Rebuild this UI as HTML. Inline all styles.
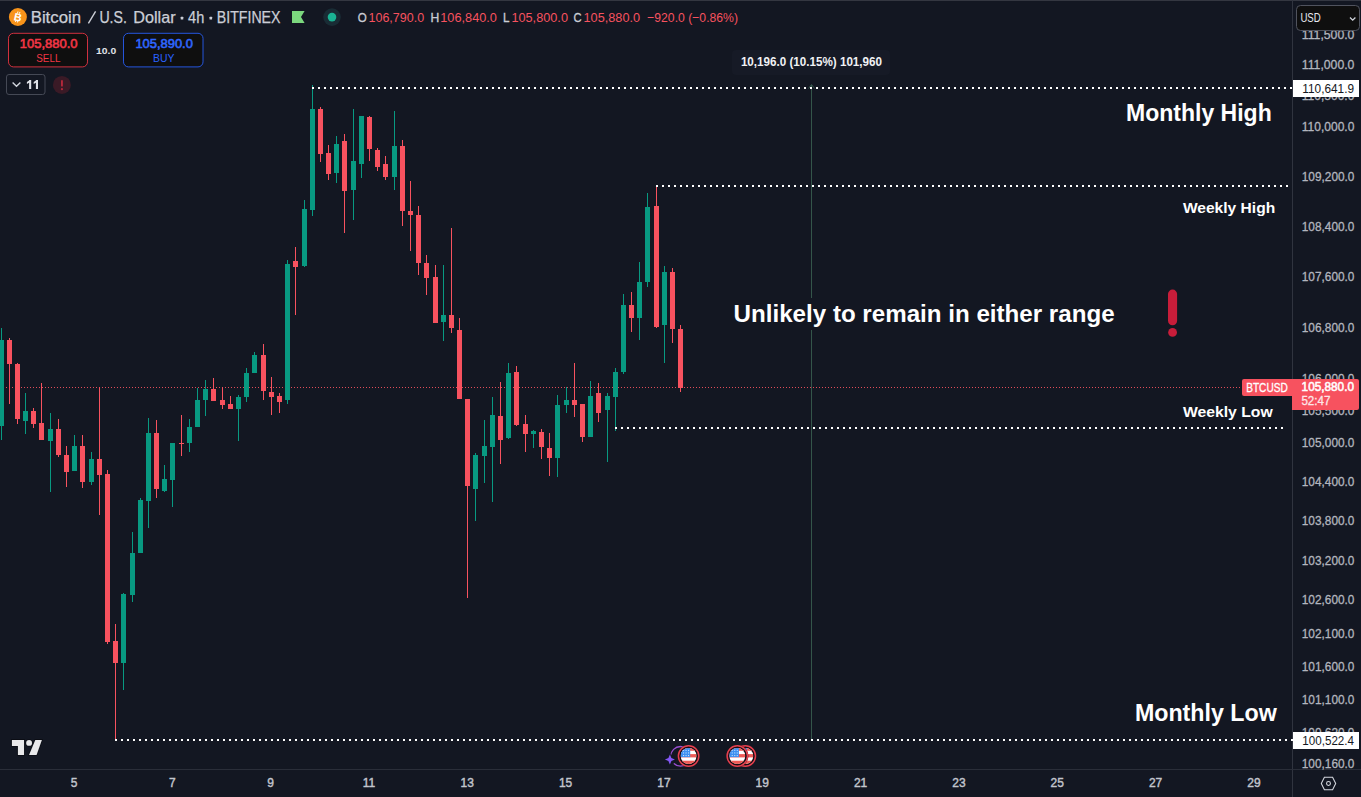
<!DOCTYPE html>
<html lang="en"><head><meta charset="utf-8"><title>BTCUSD 4h chart</title>
<style>
html,body{margin:0;padding:0;background:#131722;}
body{width:1361px;height:797px;overflow:hidden;position:relative;font-family:"Liberation Sans", sans-serif;}
</style></head><body>
<svg width="1361" height="797" viewBox="0 0 1361 797" font-family='"Liberation Sans", sans-serif' style="position:absolute;left:0;top:0;display:block">
<rect x="0" y="0" width="1361" height="797" fill="#131722"/>
<rect x="0" y="0" width="1361" height="1" fill="#343741"/>
<g shape-rendering="crispEdges">
<rect x="811" y="85" width="1" height="656" fill="#34554a"/>
<path d="M0 387h1v1h-1zM3 387h1v1h-1zM6 387h1v1h-1zM9 387h1v1h-1zM12 387h1v1h-1zM15 387h1v1h-1zM18 387h1v1h-1zM21 387h1v1h-1zM24 387h1v1h-1zM27 387h1v1h-1zM30 387h1v1h-1zM33 387h1v1h-1zM36 387h1v1h-1zM39 387h1v1h-1zM42 387h1v1h-1zM45 387h1v1h-1zM48 387h1v1h-1zM51 387h1v1h-1zM54 387h1v1h-1zM57 387h1v1h-1zM60 387h1v1h-1zM63 387h1v1h-1zM66 387h1v1h-1zM69 387h1v1h-1zM72 387h1v1h-1zM75 387h1v1h-1zM78 387h1v1h-1zM81 387h1v1h-1zM84 387h1v1h-1zM87 387h1v1h-1zM90 387h1v1h-1zM93 387h1v1h-1zM96 387h1v1h-1zM99 387h1v1h-1zM102 387h1v1h-1zM105 387h1v1h-1zM108 387h1v1h-1zM111 387h1v1h-1zM114 387h1v1h-1zM117 387h1v1h-1zM120 387h1v1h-1zM123 387h1v1h-1zM126 387h1v1h-1zM129 387h1v1h-1zM132 387h1v1h-1zM135 387h1v1h-1zM138 387h1v1h-1zM141 387h1v1h-1zM144 387h1v1h-1zM147 387h1v1h-1zM150 387h1v1h-1zM153 387h1v1h-1zM156 387h1v1h-1zM159 387h1v1h-1zM162 387h1v1h-1zM165 387h1v1h-1zM168 387h1v1h-1zM171 387h1v1h-1zM174 387h1v1h-1zM177 387h1v1h-1zM180 387h1v1h-1zM183 387h1v1h-1zM186 387h1v1h-1zM189 387h1v1h-1zM192 387h1v1h-1zM195 387h1v1h-1zM198 387h1v1h-1zM201 387h1v1h-1zM204 387h1v1h-1zM207 387h1v1h-1zM210 387h1v1h-1zM213 387h1v1h-1zM216 387h1v1h-1zM219 387h1v1h-1zM222 387h1v1h-1zM225 387h1v1h-1zM228 387h1v1h-1zM231 387h1v1h-1zM234 387h1v1h-1zM237 387h1v1h-1zM240 387h1v1h-1zM243 387h1v1h-1zM246 387h1v1h-1zM249 387h1v1h-1zM252 387h1v1h-1zM255 387h1v1h-1zM258 387h1v1h-1zM261 387h1v1h-1zM264 387h1v1h-1zM267 387h1v1h-1zM270 387h1v1h-1zM273 387h1v1h-1zM276 387h1v1h-1zM279 387h1v1h-1zM282 387h1v1h-1zM285 387h1v1h-1zM288 387h1v1h-1zM291 387h1v1h-1zM294 387h1v1h-1zM297 387h1v1h-1zM300 387h1v1h-1zM303 387h1v1h-1zM306 387h1v1h-1zM309 387h1v1h-1zM312 387h1v1h-1zM315 387h1v1h-1zM318 387h1v1h-1zM321 387h1v1h-1zM324 387h1v1h-1zM327 387h1v1h-1zM330 387h1v1h-1zM333 387h1v1h-1zM336 387h1v1h-1zM339 387h1v1h-1zM342 387h1v1h-1zM345 387h1v1h-1zM348 387h1v1h-1zM351 387h1v1h-1zM354 387h1v1h-1zM357 387h1v1h-1zM360 387h1v1h-1zM363 387h1v1h-1zM366 387h1v1h-1zM369 387h1v1h-1zM372 387h1v1h-1zM375 387h1v1h-1zM378 387h1v1h-1zM381 387h1v1h-1zM384 387h1v1h-1zM387 387h1v1h-1zM390 387h1v1h-1zM393 387h1v1h-1zM396 387h1v1h-1zM399 387h1v1h-1zM402 387h1v1h-1zM405 387h1v1h-1zM408 387h1v1h-1zM411 387h1v1h-1zM414 387h1v1h-1zM417 387h1v1h-1zM420 387h1v1h-1zM423 387h1v1h-1zM426 387h1v1h-1zM429 387h1v1h-1zM432 387h1v1h-1zM435 387h1v1h-1zM438 387h1v1h-1zM441 387h1v1h-1zM444 387h1v1h-1zM447 387h1v1h-1zM450 387h1v1h-1zM453 387h1v1h-1zM456 387h1v1h-1zM459 387h1v1h-1zM462 387h1v1h-1zM465 387h1v1h-1zM468 387h1v1h-1zM471 387h1v1h-1zM474 387h1v1h-1zM477 387h1v1h-1zM480 387h1v1h-1zM483 387h1v1h-1zM486 387h1v1h-1zM489 387h1v1h-1zM492 387h1v1h-1zM495 387h1v1h-1zM498 387h1v1h-1zM501 387h1v1h-1zM504 387h1v1h-1zM507 387h1v1h-1zM510 387h1v1h-1zM513 387h1v1h-1zM516 387h1v1h-1zM519 387h1v1h-1zM522 387h1v1h-1zM525 387h1v1h-1zM528 387h1v1h-1zM531 387h1v1h-1zM534 387h1v1h-1zM537 387h1v1h-1zM540 387h1v1h-1zM543 387h1v1h-1zM546 387h1v1h-1zM549 387h1v1h-1zM552 387h1v1h-1zM555 387h1v1h-1zM558 387h1v1h-1zM561 387h1v1h-1zM564 387h1v1h-1zM567 387h1v1h-1zM570 387h1v1h-1zM573 387h1v1h-1zM576 387h1v1h-1zM579 387h1v1h-1zM582 387h1v1h-1zM585 387h1v1h-1zM588 387h1v1h-1zM591 387h1v1h-1zM594 387h1v1h-1zM597 387h1v1h-1zM600 387h1v1h-1zM603 387h1v1h-1zM606 387h1v1h-1zM609 387h1v1h-1zM612 387h1v1h-1zM615 387h1v1h-1zM618 387h1v1h-1zM621 387h1v1h-1zM624 387h1v1h-1zM627 387h1v1h-1zM630 387h1v1h-1zM633 387h1v1h-1zM636 387h1v1h-1zM639 387h1v1h-1zM642 387h1v1h-1zM645 387h1v1h-1zM648 387h1v1h-1zM651 387h1v1h-1zM654 387h1v1h-1zM657 387h1v1h-1zM660 387h1v1h-1zM663 387h1v1h-1zM666 387h1v1h-1zM669 387h1v1h-1zM672 387h1v1h-1zM675 387h1v1h-1zM678 387h1v1h-1zM681 387h1v1h-1zM684 387h1v1h-1zM687 387h1v1h-1zM690 387h1v1h-1zM693 387h1v1h-1zM696 387h1v1h-1zM699 387h1v1h-1zM702 387h1v1h-1zM705 387h1v1h-1zM708 387h1v1h-1zM711 387h1v1h-1zM714 387h1v1h-1zM717 387h1v1h-1zM720 387h1v1h-1zM723 387h1v1h-1zM726 387h1v1h-1zM729 387h1v1h-1zM732 387h1v1h-1zM735 387h1v1h-1zM738 387h1v1h-1zM741 387h1v1h-1zM744 387h1v1h-1zM747 387h1v1h-1zM750 387h1v1h-1zM753 387h1v1h-1zM756 387h1v1h-1zM759 387h1v1h-1zM762 387h1v1h-1zM765 387h1v1h-1zM768 387h1v1h-1zM771 387h1v1h-1zM774 387h1v1h-1zM777 387h1v1h-1zM780 387h1v1h-1zM783 387h1v1h-1zM786 387h1v1h-1zM789 387h1v1h-1zM792 387h1v1h-1zM795 387h1v1h-1zM798 387h1v1h-1zM801 387h1v1h-1zM804 387h1v1h-1zM807 387h1v1h-1zM810 387h1v1h-1zM813 387h1v1h-1zM816 387h1v1h-1zM819 387h1v1h-1zM822 387h1v1h-1zM825 387h1v1h-1zM828 387h1v1h-1zM831 387h1v1h-1zM834 387h1v1h-1zM837 387h1v1h-1zM840 387h1v1h-1zM843 387h1v1h-1zM846 387h1v1h-1zM849 387h1v1h-1zM852 387h1v1h-1zM855 387h1v1h-1zM858 387h1v1h-1zM861 387h1v1h-1zM864 387h1v1h-1zM867 387h1v1h-1zM870 387h1v1h-1zM873 387h1v1h-1zM876 387h1v1h-1zM879 387h1v1h-1zM882 387h1v1h-1zM885 387h1v1h-1zM888 387h1v1h-1zM891 387h1v1h-1zM894 387h1v1h-1zM897 387h1v1h-1zM900 387h1v1h-1zM903 387h1v1h-1zM906 387h1v1h-1zM909 387h1v1h-1zM912 387h1v1h-1zM915 387h1v1h-1zM918 387h1v1h-1zM921 387h1v1h-1zM924 387h1v1h-1zM927 387h1v1h-1zM930 387h1v1h-1zM933 387h1v1h-1zM936 387h1v1h-1zM939 387h1v1h-1zM942 387h1v1h-1zM945 387h1v1h-1zM948 387h1v1h-1zM951 387h1v1h-1zM954 387h1v1h-1zM957 387h1v1h-1zM960 387h1v1h-1zM963 387h1v1h-1zM966 387h1v1h-1zM969 387h1v1h-1zM972 387h1v1h-1zM975 387h1v1h-1zM978 387h1v1h-1zM981 387h1v1h-1zM984 387h1v1h-1zM987 387h1v1h-1zM990 387h1v1h-1zM993 387h1v1h-1zM996 387h1v1h-1zM999 387h1v1h-1zM1002 387h1v1h-1zM1005 387h1v1h-1zM1008 387h1v1h-1zM1011 387h1v1h-1zM1014 387h1v1h-1zM1017 387h1v1h-1zM1020 387h1v1h-1zM1023 387h1v1h-1zM1026 387h1v1h-1zM1029 387h1v1h-1zM1032 387h1v1h-1zM1035 387h1v1h-1zM1038 387h1v1h-1zM1041 387h1v1h-1zM1044 387h1v1h-1zM1047 387h1v1h-1zM1050 387h1v1h-1zM1053 387h1v1h-1zM1056 387h1v1h-1zM1059 387h1v1h-1zM1062 387h1v1h-1zM1065 387h1v1h-1zM1068 387h1v1h-1zM1071 387h1v1h-1zM1074 387h1v1h-1zM1077 387h1v1h-1zM1080 387h1v1h-1zM1083 387h1v1h-1zM1086 387h1v1h-1zM1089 387h1v1h-1zM1092 387h1v1h-1zM1095 387h1v1h-1zM1098 387h1v1h-1zM1101 387h1v1h-1zM1104 387h1v1h-1zM1107 387h1v1h-1zM1110 387h1v1h-1zM1113 387h1v1h-1zM1116 387h1v1h-1zM1119 387h1v1h-1zM1122 387h1v1h-1zM1125 387h1v1h-1zM1128 387h1v1h-1zM1131 387h1v1h-1zM1134 387h1v1h-1zM1137 387h1v1h-1zM1140 387h1v1h-1zM1143 387h1v1h-1zM1146 387h1v1h-1zM1149 387h1v1h-1zM1152 387h1v1h-1zM1155 387h1v1h-1zM1158 387h1v1h-1zM1161 387h1v1h-1zM1164 387h1v1h-1zM1167 387h1v1h-1zM1170 387h1v1h-1zM1173 387h1v1h-1zM1176 387h1v1h-1zM1179 387h1v1h-1zM1182 387h1v1h-1zM1185 387h1v1h-1zM1188 387h1v1h-1zM1191 387h1v1h-1zM1194 387h1v1h-1zM1197 387h1v1h-1zM1200 387h1v1h-1zM1203 387h1v1h-1zM1206 387h1v1h-1zM1209 387h1v1h-1zM1212 387h1v1h-1zM1215 387h1v1h-1zM1218 387h1v1h-1zM1221 387h1v1h-1zM1224 387h1v1h-1zM1227 387h1v1h-1zM1230 387h1v1h-1zM1233 387h1v1h-1zM1236 387h1v1h-1zM1239 387h1v1h-1z" fill="#f7525f" opacity="0.9"/>
<rect x="1" y="328" width="1" height="112" fill="#089981"/>
<rect x="-1" y="340" width="5" height="86" fill="#089981"/>
<rect x="9" y="338" width="1" height="66" fill="#f7525f"/>
<rect x="7" y="340" width="5" height="24" fill="#f7525f"/>
<rect x="17" y="363" width="1" height="61" fill="#f7525f"/>
<rect x="15" y="364" width="5" height="55" fill="#f7525f"/>
<rect x="25" y="393" width="1" height="41" fill="#089981"/>
<rect x="23" y="411" width="5" height="10" fill="#089981"/>
<rect x="33" y="408" width="1" height="20" fill="#f7525f"/>
<rect x="31" y="411" width="5" height="13" fill="#f7525f"/>
<rect x="41" y="383" width="1" height="57" fill="#f7525f"/>
<rect x="39" y="423" width="5" height="17" fill="#f7525f"/>
<rect x="50" y="413" width="1" height="79" fill="#089981"/>
<rect x="48" y="429" width="5" height="12" fill="#089981"/>
<rect x="58" y="419" width="1" height="38" fill="#f7525f"/>
<rect x="56" y="429" width="5" height="26" fill="#f7525f"/>
<rect x="66" y="446" width="1" height="41" fill="#f7525f"/>
<rect x="64" y="455" width="5" height="17" fill="#f7525f"/>
<rect x="74" y="435" width="1" height="36" fill="#089981"/>
<rect x="72" y="446" width="5" height="25" fill="#089981"/>
<rect x="82" y="435" width="1" height="53" fill="#f7525f"/>
<rect x="80" y="446" width="5" height="36" fill="#f7525f"/>
<rect x="91" y="452" width="1" height="33" fill="#089981"/>
<rect x="89" y="459" width="5" height="23" fill="#089981"/>
<rect x="99" y="387" width="1" height="128" fill="#f7525f"/>
<rect x="97" y="459" width="5" height="16" fill="#f7525f"/>
<rect x="107" y="470" width="1" height="174" fill="#f7525f"/>
<rect x="105" y="474" width="5" height="168" fill="#f7525f"/>
<rect x="115" y="624" width="1" height="117" fill="#f7525f"/>
<rect x="113" y="641" width="5" height="22" fill="#f7525f"/>
<rect x="123" y="593" width="1" height="97" fill="#089981"/>
<rect x="121" y="594" width="5" height="69" fill="#089981"/>
<rect x="132" y="532" width="1" height="70" fill="#089981"/>
<rect x="130" y="553" width="5" height="42" fill="#089981"/>
<rect x="140" y="498" width="1" height="55" fill="#089981"/>
<rect x="138" y="500" width="5" height="53" fill="#089981"/>
<rect x="148" y="418" width="1" height="110" fill="#089981"/>
<rect x="146" y="433" width="5" height="68" fill="#089981"/>
<rect x="156" y="420" width="1" height="78" fill="#f7525f"/>
<rect x="154" y="433" width="5" height="56" fill="#f7525f"/>
<rect x="164" y="465" width="1" height="27" fill="#089981"/>
<rect x="162" y="479" width="5" height="12" fill="#089981"/>
<rect x="172" y="443" width="1" height="64" fill="#089981"/>
<rect x="170" y="443" width="5" height="37" fill="#089981"/>
<rect x="181" y="415" width="1" height="41" fill="#f7525f"/>
<rect x="179" y="443" width="5" height="1" fill="#f7525f"/>
<rect x="189" y="419" width="1" height="33" fill="#089981"/>
<rect x="187" y="427" width="5" height="16" fill="#089981"/>
<rect x="197" y="388" width="1" height="39" fill="#089981"/>
<rect x="195" y="400" width="5" height="27" fill="#089981"/>
<rect x="205" y="380" width="1" height="36" fill="#089981"/>
<rect x="203" y="389" width="5" height="11" fill="#089981"/>
<rect x="213" y="378" width="1" height="23" fill="#f7525f"/>
<rect x="211" y="389" width="5" height="12" fill="#f7525f"/>
<rect x="222" y="387" width="1" height="22" fill="#f7525f"/>
<rect x="220" y="400" width="5" height="5" fill="#f7525f"/>
<rect x="230" y="396" width="1" height="13" fill="#f7525f"/>
<rect x="228" y="404" width="5" height="5" fill="#f7525f"/>
<rect x="238" y="395" width="1" height="46" fill="#089981"/>
<rect x="236" y="397" width="5" height="12" fill="#089981"/>
<rect x="246" y="368" width="1" height="34" fill="#089981"/>
<rect x="244" y="373" width="5" height="24" fill="#089981"/>
<rect x="254" y="352" width="1" height="21" fill="#089981"/>
<rect x="252" y="355" width="5" height="18" fill="#089981"/>
<rect x="263" y="344" width="1" height="56" fill="#f7525f"/>
<rect x="261" y="355" width="5" height="36" fill="#f7525f"/>
<rect x="271" y="377" width="1" height="38" fill="#f7525f"/>
<rect x="269" y="392" width="5" height="5" fill="#f7525f"/>
<rect x="279" y="393" width="1" height="20" fill="#f7525f"/>
<rect x="277" y="396" width="5" height="6" fill="#f7525f"/>
<rect x="287" y="260" width="1" height="144" fill="#089981"/>
<rect x="285" y="264" width="5" height="136" fill="#089981"/>
<rect x="295" y="247" width="1" height="68" fill="#f7525f"/>
<rect x="293" y="261" width="5" height="6" fill="#f7525f"/>
<rect x="304" y="200" width="1" height="67" fill="#089981"/>
<rect x="302" y="209" width="5" height="57" fill="#089981"/>
<rect x="312" y="85" width="1" height="131" fill="#089981"/>
<rect x="310" y="109" width="5" height="101" fill="#089981"/>
<rect x="320" y="107" width="1" height="55" fill="#f7525f"/>
<rect x="318" y="109" width="5" height="45" fill="#f7525f"/>
<rect x="328" y="145" width="1" height="35" fill="#f7525f"/>
<rect x="326" y="153" width="5" height="21" fill="#f7525f"/>
<rect x="336" y="136" width="1" height="47" fill="#089981"/>
<rect x="334" y="144" width="5" height="29" fill="#089981"/>
<rect x="344" y="134" width="1" height="99" fill="#f7525f"/>
<rect x="342" y="141" width="5" height="50" fill="#f7525f"/>
<rect x="353" y="109" width="1" height="111" fill="#089981"/>
<rect x="351" y="161" width="5" height="29" fill="#089981"/>
<rect x="361" y="116" width="1" height="62" fill="#089981"/>
<rect x="359" y="116" width="5" height="48" fill="#089981"/>
<rect x="369" y="116" width="1" height="45" fill="#f7525f"/>
<rect x="367" y="117" width="5" height="32" fill="#f7525f"/>
<rect x="377" y="148" width="1" height="23" fill="#f7525f"/>
<rect x="375" y="150" width="5" height="17" fill="#f7525f"/>
<rect x="385" y="156" width="1" height="24" fill="#f7525f"/>
<rect x="383" y="164" width="5" height="13" fill="#f7525f"/>
<rect x="394" y="111" width="1" height="79" fill="#089981"/>
<rect x="392" y="146" width="5" height="31" fill="#089981"/>
<rect x="402" y="140" width="1" height="86" fill="#f7525f"/>
<rect x="400" y="146" width="5" height="65" fill="#f7525f"/>
<rect x="410" y="181" width="1" height="70" fill="#f7525f"/>
<rect x="408" y="211" width="5" height="4" fill="#f7525f"/>
<rect x="418" y="206" width="1" height="69" fill="#f7525f"/>
<rect x="416" y="215" width="5" height="48" fill="#f7525f"/>
<rect x="426" y="255" width="1" height="40" fill="#f7525f"/>
<rect x="424" y="263" width="5" height="15" fill="#f7525f"/>
<rect x="435" y="265" width="1" height="58" fill="#f7525f"/>
<rect x="433" y="277" width="5" height="46" fill="#f7525f"/>
<rect x="443" y="265" width="1" height="76" fill="#089981"/>
<rect x="441" y="315" width="5" height="7" fill="#089981"/>
<rect x="451" y="228" width="1" height="105" fill="#f7525f"/>
<rect x="449" y="315" width="5" height="13" fill="#f7525f"/>
<rect x="459" y="318" width="1" height="81" fill="#f7525f"/>
<rect x="457" y="330" width="5" height="69" fill="#f7525f"/>
<rect x="467" y="399" width="1" height="199" fill="#f7525f"/>
<rect x="465" y="399" width="5" height="87" fill="#f7525f"/>
<rect x="475" y="453" width="1" height="68" fill="#089981"/>
<rect x="473" y="455" width="5" height="34" fill="#089981"/>
<rect x="484" y="420" width="1" height="63" fill="#089981"/>
<rect x="482" y="446" width="5" height="10" fill="#089981"/>
<rect x="492" y="397" width="1" height="105" fill="#089981"/>
<rect x="490" y="415" width="5" height="32" fill="#089981"/>
<rect x="500" y="382" width="1" height="82" fill="#f7525f"/>
<rect x="498" y="416" width="5" height="24" fill="#f7525f"/>
<rect x="508" y="363" width="1" height="76" fill="#089981"/>
<rect x="506" y="373" width="5" height="65" fill="#089981"/>
<rect x="516" y="366" width="1" height="60" fill="#f7525f"/>
<rect x="514" y="372" width="5" height="53" fill="#f7525f"/>
<rect x="525" y="415" width="1" height="37" fill="#f7525f"/>
<rect x="523" y="424" width="5" height="10" fill="#f7525f"/>
<rect x="533" y="430" width="1" height="18" fill="#089981"/>
<rect x="531" y="431" width="5" height="3" fill="#089981"/>
<rect x="541" y="429" width="1" height="30" fill="#f7525f"/>
<rect x="539" y="432" width="5" height="15" fill="#f7525f"/>
<rect x="549" y="433" width="1" height="43" fill="#f7525f"/>
<rect x="547" y="448" width="5" height="10" fill="#f7525f"/>
<rect x="557" y="395" width="1" height="82" fill="#089981"/>
<rect x="555" y="405" width="5" height="53" fill="#089981"/>
<rect x="566" y="387" width="1" height="26" fill="#089981"/>
<rect x="564" y="400" width="5" height="5" fill="#089981"/>
<rect x="574" y="363" width="1" height="54" fill="#f7525f"/>
<rect x="572" y="400" width="5" height="5" fill="#f7525f"/>
<rect x="582" y="404" width="1" height="38" fill="#f7525f"/>
<rect x="580" y="404" width="5" height="33" fill="#f7525f"/>
<rect x="590" y="381" width="1" height="56" fill="#089981"/>
<rect x="588" y="396" width="5" height="41" fill="#089981"/>
<rect x="598" y="383" width="1" height="39" fill="#f7525f"/>
<rect x="596" y="393" width="5" height="20" fill="#f7525f"/>
<rect x="607" y="393" width="1" height="69" fill="#089981"/>
<rect x="605" y="396" width="5" height="14" fill="#089981"/>
<rect x="615" y="368" width="1" height="63" fill="#089981"/>
<rect x="613" y="372" width="5" height="25" fill="#089981"/>
<rect x="623" y="294" width="1" height="80" fill="#089981"/>
<rect x="621" y="305" width="5" height="67" fill="#089981"/>
<rect x="631" y="292" width="1" height="40" fill="#f7525f"/>
<rect x="629" y="305" width="5" height="13" fill="#f7525f"/>
<rect x="639" y="262" width="1" height="78" fill="#089981"/>
<rect x="637" y="282" width="5" height="36" fill="#089981"/>
<rect x="647" y="193" width="1" height="94" fill="#089981"/>
<rect x="645" y="207" width="5" height="75" fill="#089981"/>
<rect x="656" y="186" width="1" height="142" fill="#f7525f"/>
<rect x="654" y="206" width="5" height="121" fill="#f7525f"/>
<rect x="664" y="266" width="1" height="97" fill="#089981"/>
<rect x="662" y="272" width="5" height="53" fill="#089981"/>
<rect x="672" y="268" width="1" height="75" fill="#f7525f"/>
<rect x="670" y="272" width="5" height="57" fill="#f7525f"/>
<rect x="680" y="325" width="1" height="67" fill="#f7525f"/>
<rect x="678" y="329" width="5" height="59" fill="#f7525f"/>
<rect x="1292" y="0" width="1" height="797" fill="#30343f"/>
<rect x="0" y="769" width="1361" height="1" fill="#2a2e39"/>
</g>
<g shape-rendering="crispEdges">
<path d="M312 87h2v2h-2zM318 87h2v2h-2zM324 87h2v2h-2zM330 87h2v2h-2zM336 87h2v2h-2zM342 87h2v2h-2zM348 87h2v2h-2zM354 87h2v2h-2zM360 87h2v2h-2zM366 87h2v2h-2zM372 87h2v2h-2zM378 87h2v2h-2zM384 87h2v2h-2zM390 87h2v2h-2zM396 87h2v2h-2zM402 87h2v2h-2zM408 87h2v2h-2zM414 87h2v2h-2zM420 87h2v2h-2zM426 87h2v2h-2zM432 87h2v2h-2zM438 87h2v2h-2zM444 87h2v2h-2zM450 87h2v2h-2zM456 87h2v2h-2zM462 87h2v2h-2zM468 87h2v2h-2zM474 87h2v2h-2zM480 87h2v2h-2zM486 87h2v2h-2zM492 87h2v2h-2zM498 87h2v2h-2zM504 87h2v2h-2zM510 87h2v2h-2zM516 87h2v2h-2zM522 87h2v2h-2zM528 87h2v2h-2zM534 87h2v2h-2zM540 87h2v2h-2zM546 87h2v2h-2zM552 87h2v2h-2zM558 87h2v2h-2zM564 87h2v2h-2zM570 87h2v2h-2zM576 87h2v2h-2zM582 87h2v2h-2zM588 87h2v2h-2zM594 87h2v2h-2zM600 87h2v2h-2zM606 87h2v2h-2zM612 87h2v2h-2zM618 87h2v2h-2zM624 87h2v2h-2zM630 87h2v2h-2zM636 87h2v2h-2zM642 87h2v2h-2zM648 87h2v2h-2zM654 87h2v2h-2zM660 87h2v2h-2zM666 87h2v2h-2zM672 87h2v2h-2zM678 87h2v2h-2zM684 87h2v2h-2zM690 87h2v2h-2zM696 87h2v2h-2zM702 87h2v2h-2zM708 87h2v2h-2zM714 87h2v2h-2zM720 87h2v2h-2zM726 87h2v2h-2zM732 87h2v2h-2zM738 87h2v2h-2zM744 87h2v2h-2zM750 87h2v2h-2zM756 87h2v2h-2zM762 87h2v2h-2zM768 87h2v2h-2zM774 87h2v2h-2zM780 87h2v2h-2zM786 87h2v2h-2zM792 87h2v2h-2zM798 87h2v2h-2zM804 87h2v2h-2zM810 87h2v2h-2zM816 87h2v2h-2zM822 87h2v2h-2zM828 87h2v2h-2zM834 87h2v2h-2zM840 87h2v2h-2zM846 87h2v2h-2zM852 87h2v2h-2zM858 87h2v2h-2zM864 87h2v2h-2zM870 87h2v2h-2zM876 87h2v2h-2zM882 87h2v2h-2zM888 87h2v2h-2zM894 87h2v2h-2zM900 87h2v2h-2zM906 87h2v2h-2zM912 87h2v2h-2zM918 87h2v2h-2zM924 87h2v2h-2zM930 87h2v2h-2zM936 87h2v2h-2zM942 87h2v2h-2zM948 87h2v2h-2zM954 87h2v2h-2zM960 87h2v2h-2zM966 87h2v2h-2zM972 87h2v2h-2zM978 87h2v2h-2zM984 87h2v2h-2zM990 87h2v2h-2zM996 87h2v2h-2zM1002 87h2v2h-2zM1008 87h2v2h-2zM1014 87h2v2h-2zM1020 87h2v2h-2zM1026 87h2v2h-2zM1032 87h2v2h-2zM1038 87h2v2h-2zM1044 87h2v2h-2zM1050 87h2v2h-2zM1056 87h2v2h-2zM1062 87h2v2h-2zM1068 87h2v2h-2zM1074 87h2v2h-2zM1080 87h2v2h-2zM1086 87h2v2h-2zM1092 87h2v2h-2zM1098 87h2v2h-2zM1104 87h2v2h-2zM1110 87h2v2h-2zM1116 87h2v2h-2zM1122 87h2v2h-2zM1128 87h2v2h-2zM1134 87h2v2h-2zM1140 87h2v2h-2zM1146 87h2v2h-2zM1152 87h2v2h-2zM1158 87h2v2h-2zM1164 87h2v2h-2zM1170 87h2v2h-2zM1176 87h2v2h-2zM1182 87h2v2h-2zM1188 87h2v2h-2zM1194 87h2v2h-2zM1200 87h2v2h-2zM1206 87h2v2h-2zM1212 87h2v2h-2zM1218 87h2v2h-2zM1224 87h2v2h-2zM1230 87h2v2h-2zM1236 87h2v2h-2zM1242 87h2v2h-2zM1248 87h2v2h-2zM1254 87h2v2h-2zM1260 87h2v2h-2zM1266 87h2v2h-2zM1272 87h2v2h-2zM1278 87h2v2h-2zM1284 87h2v2h-2zM1290 87h2v2h-2z" fill="#ffffff"/>
<path d="M656 185h2v2h-2zM662 185h2v2h-2zM668 185h2v2h-2zM674 185h2v2h-2zM680 185h2v2h-2zM686 185h2v2h-2zM692 185h2v2h-2zM698 185h2v2h-2zM704 185h2v2h-2zM710 185h2v2h-2zM716 185h2v2h-2zM722 185h2v2h-2zM728 185h2v2h-2zM734 185h2v2h-2zM740 185h2v2h-2zM746 185h2v2h-2zM752 185h2v2h-2zM758 185h2v2h-2zM764 185h2v2h-2zM770 185h2v2h-2zM776 185h2v2h-2zM782 185h2v2h-2zM788 185h2v2h-2zM794 185h2v2h-2zM800 185h2v2h-2zM806 185h2v2h-2zM812 185h2v2h-2zM818 185h2v2h-2zM824 185h2v2h-2zM830 185h2v2h-2zM836 185h2v2h-2zM842 185h2v2h-2zM848 185h2v2h-2zM854 185h2v2h-2zM860 185h2v2h-2zM866 185h2v2h-2zM872 185h2v2h-2zM878 185h2v2h-2zM884 185h2v2h-2zM890 185h2v2h-2zM896 185h2v2h-2zM902 185h2v2h-2zM908 185h2v2h-2zM914 185h2v2h-2zM920 185h2v2h-2zM926 185h2v2h-2zM932 185h2v2h-2zM938 185h2v2h-2zM944 185h2v2h-2zM950 185h2v2h-2zM956 185h2v2h-2zM962 185h2v2h-2zM968 185h2v2h-2zM974 185h2v2h-2zM980 185h2v2h-2zM986 185h2v2h-2zM992 185h2v2h-2zM998 185h2v2h-2zM1004 185h2v2h-2zM1010 185h2v2h-2zM1016 185h2v2h-2zM1022 185h2v2h-2zM1028 185h2v2h-2zM1034 185h2v2h-2zM1040 185h2v2h-2zM1046 185h2v2h-2zM1052 185h2v2h-2zM1058 185h2v2h-2zM1064 185h2v2h-2zM1070 185h2v2h-2zM1076 185h2v2h-2zM1082 185h2v2h-2zM1088 185h2v2h-2zM1094 185h2v2h-2zM1100 185h2v2h-2zM1106 185h2v2h-2zM1112 185h2v2h-2zM1118 185h2v2h-2zM1124 185h2v2h-2zM1130 185h2v2h-2zM1136 185h2v2h-2zM1142 185h2v2h-2zM1148 185h2v2h-2zM1154 185h2v2h-2zM1160 185h2v2h-2zM1166 185h2v2h-2zM1172 185h2v2h-2zM1178 185h2v2h-2zM1184 185h2v2h-2zM1190 185h2v2h-2zM1196 185h2v2h-2zM1202 185h2v2h-2zM1208 185h2v2h-2zM1214 185h2v2h-2zM1220 185h2v2h-2zM1226 185h2v2h-2zM1232 185h2v2h-2zM1238 185h2v2h-2zM1244 185h2v2h-2zM1250 185h2v2h-2zM1256 185h2v2h-2zM1262 185h2v2h-2zM1268 185h2v2h-2zM1274 185h2v2h-2zM1280 185h2v2h-2zM1286 185h2v2h-2z" fill="#ffffff"/>
<path d="M615 427h2v2h-2zM621 427h2v2h-2zM627 427h2v2h-2zM633 427h2v2h-2zM639 427h2v2h-2zM645 427h2v2h-2zM651 427h2v2h-2zM657 427h2v2h-2zM663 427h2v2h-2zM669 427h2v2h-2zM675 427h2v2h-2zM681 427h2v2h-2zM687 427h2v2h-2zM693 427h2v2h-2zM699 427h2v2h-2zM705 427h2v2h-2zM711 427h2v2h-2zM717 427h2v2h-2zM723 427h2v2h-2zM729 427h2v2h-2zM735 427h2v2h-2zM741 427h2v2h-2zM747 427h2v2h-2zM753 427h2v2h-2zM759 427h2v2h-2zM765 427h2v2h-2zM771 427h2v2h-2zM777 427h2v2h-2zM783 427h2v2h-2zM789 427h2v2h-2zM795 427h2v2h-2zM801 427h2v2h-2zM807 427h2v2h-2zM813 427h2v2h-2zM819 427h2v2h-2zM825 427h2v2h-2zM831 427h2v2h-2zM837 427h2v2h-2zM843 427h2v2h-2zM849 427h2v2h-2zM855 427h2v2h-2zM861 427h2v2h-2zM867 427h2v2h-2zM873 427h2v2h-2zM879 427h2v2h-2zM885 427h2v2h-2zM891 427h2v2h-2zM897 427h2v2h-2zM903 427h2v2h-2zM909 427h2v2h-2zM915 427h2v2h-2zM921 427h2v2h-2zM927 427h2v2h-2zM933 427h2v2h-2zM939 427h2v2h-2zM945 427h2v2h-2zM951 427h2v2h-2zM957 427h2v2h-2zM963 427h2v2h-2zM969 427h2v2h-2zM975 427h2v2h-2zM981 427h2v2h-2zM987 427h2v2h-2zM993 427h2v2h-2zM999 427h2v2h-2zM1005 427h2v2h-2zM1011 427h2v2h-2zM1017 427h2v2h-2zM1023 427h2v2h-2zM1029 427h2v2h-2zM1035 427h2v2h-2zM1041 427h2v2h-2zM1047 427h2v2h-2zM1053 427h2v2h-2zM1059 427h2v2h-2zM1065 427h2v2h-2zM1071 427h2v2h-2zM1077 427h2v2h-2zM1083 427h2v2h-2zM1089 427h2v2h-2zM1095 427h2v2h-2zM1101 427h2v2h-2zM1107 427h2v2h-2zM1113 427h2v2h-2zM1119 427h2v2h-2zM1125 427h2v2h-2zM1131 427h2v2h-2zM1137 427h2v2h-2zM1143 427h2v2h-2zM1149 427h2v2h-2zM1155 427h2v2h-2zM1161 427h2v2h-2zM1167 427h2v2h-2zM1173 427h2v2h-2zM1179 427h2v2h-2zM1185 427h2v2h-2zM1191 427h2v2h-2zM1197 427h2v2h-2zM1203 427h2v2h-2zM1209 427h2v2h-2zM1215 427h2v2h-2zM1221 427h2v2h-2zM1227 427h2v2h-2zM1233 427h2v2h-2zM1239 427h2v2h-2zM1245 427h2v2h-2zM1251 427h2v2h-2zM1257 427h2v2h-2zM1263 427h2v2h-2zM1269 427h2v2h-2zM1275 427h2v2h-2zM1281 427h2v2h-2z" fill="#ffffff"/>
<path d="M115 739h2v2h-2zM121 739h2v2h-2zM127 739h2v2h-2zM133 739h2v2h-2zM139 739h2v2h-2zM145 739h2v2h-2zM151 739h2v2h-2zM157 739h2v2h-2zM163 739h2v2h-2zM169 739h2v2h-2zM175 739h2v2h-2zM181 739h2v2h-2zM187 739h2v2h-2zM193 739h2v2h-2zM199 739h2v2h-2zM205 739h2v2h-2zM211 739h2v2h-2zM217 739h2v2h-2zM223 739h2v2h-2zM229 739h2v2h-2zM235 739h2v2h-2zM241 739h2v2h-2zM247 739h2v2h-2zM253 739h2v2h-2zM259 739h2v2h-2zM265 739h2v2h-2zM271 739h2v2h-2zM277 739h2v2h-2zM283 739h2v2h-2zM289 739h2v2h-2zM295 739h2v2h-2zM301 739h2v2h-2zM307 739h2v2h-2zM313 739h2v2h-2zM319 739h2v2h-2zM325 739h2v2h-2zM331 739h2v2h-2zM337 739h2v2h-2zM343 739h2v2h-2zM349 739h2v2h-2zM355 739h2v2h-2zM361 739h2v2h-2zM367 739h2v2h-2zM373 739h2v2h-2zM379 739h2v2h-2zM385 739h2v2h-2zM391 739h2v2h-2zM397 739h2v2h-2zM403 739h2v2h-2zM409 739h2v2h-2zM415 739h2v2h-2zM421 739h2v2h-2zM427 739h2v2h-2zM433 739h2v2h-2zM439 739h2v2h-2zM445 739h2v2h-2zM451 739h2v2h-2zM457 739h2v2h-2zM463 739h2v2h-2zM469 739h2v2h-2zM475 739h2v2h-2zM481 739h2v2h-2zM487 739h2v2h-2zM493 739h2v2h-2zM499 739h2v2h-2zM505 739h2v2h-2zM511 739h2v2h-2zM517 739h2v2h-2zM523 739h2v2h-2zM529 739h2v2h-2zM535 739h2v2h-2zM541 739h2v2h-2zM547 739h2v2h-2zM553 739h2v2h-2zM559 739h2v2h-2zM565 739h2v2h-2zM571 739h2v2h-2zM577 739h2v2h-2zM583 739h2v2h-2zM589 739h2v2h-2zM595 739h2v2h-2zM601 739h2v2h-2zM607 739h2v2h-2zM613 739h2v2h-2zM619 739h2v2h-2zM625 739h2v2h-2zM631 739h2v2h-2zM637 739h2v2h-2zM643 739h2v2h-2zM649 739h2v2h-2zM655 739h2v2h-2zM661 739h2v2h-2zM667 739h2v2h-2zM673 739h2v2h-2zM679 739h2v2h-2zM685 739h2v2h-2zM691 739h2v2h-2zM697 739h2v2h-2zM703 739h2v2h-2zM709 739h2v2h-2zM715 739h2v2h-2zM721 739h2v2h-2zM727 739h2v2h-2zM733 739h2v2h-2zM739 739h2v2h-2zM745 739h2v2h-2zM751 739h2v2h-2zM757 739h2v2h-2zM763 739h2v2h-2zM769 739h2v2h-2zM775 739h2v2h-2zM781 739h2v2h-2zM787 739h2v2h-2zM793 739h2v2h-2zM799 739h2v2h-2zM805 739h2v2h-2zM811 739h2v2h-2zM817 739h2v2h-2zM823 739h2v2h-2zM829 739h2v2h-2zM835 739h2v2h-2zM841 739h2v2h-2zM847 739h2v2h-2zM853 739h2v2h-2zM859 739h2v2h-2zM865 739h2v2h-2zM871 739h2v2h-2zM877 739h2v2h-2zM883 739h2v2h-2zM889 739h2v2h-2zM895 739h2v2h-2zM901 739h2v2h-2zM907 739h2v2h-2zM913 739h2v2h-2zM919 739h2v2h-2zM925 739h2v2h-2zM931 739h2v2h-2zM937 739h2v2h-2zM943 739h2v2h-2zM949 739h2v2h-2zM955 739h2v2h-2zM961 739h2v2h-2zM967 739h2v2h-2zM973 739h2v2h-2zM979 739h2v2h-2zM985 739h2v2h-2zM991 739h2v2h-2zM997 739h2v2h-2zM1003 739h2v2h-2zM1009 739h2v2h-2zM1015 739h2v2h-2zM1021 739h2v2h-2zM1027 739h2v2h-2zM1033 739h2v2h-2zM1039 739h2v2h-2zM1045 739h2v2h-2zM1051 739h2v2h-2zM1057 739h2v2h-2zM1063 739h2v2h-2zM1069 739h2v2h-2zM1075 739h2v2h-2zM1081 739h2v2h-2zM1087 739h2v2h-2zM1093 739h2v2h-2zM1099 739h2v2h-2zM1105 739h2v2h-2zM1111 739h2v2h-2zM1117 739h2v2h-2zM1123 739h2v2h-2zM1129 739h2v2h-2zM1135 739h2v2h-2zM1141 739h2v2h-2zM1147 739h2v2h-2zM1153 739h2v2h-2zM1159 739h2v2h-2zM1165 739h2v2h-2zM1171 739h2v2h-2zM1177 739h2v2h-2zM1183 739h2v2h-2zM1189 739h2v2h-2zM1195 739h2v2h-2zM1201 739h2v2h-2zM1207 739h2v2h-2zM1213 739h2v2h-2zM1219 739h2v2h-2zM1225 739h2v2h-2zM1231 739h2v2h-2zM1237 739h2v2h-2zM1243 739h2v2h-2zM1249 739h2v2h-2zM1255 739h2v2h-2zM1261 739h2v2h-2zM1267 739h2v2h-2zM1273 739h2v2h-2zM1279 739h2v2h-2zM1285 739h2v2h-2zM1291 739h2v2h-2z" fill="#ffffff"/>
</g>
<text x="1301.8" y="38.8" font-size="12" fill="#b2b5be" font-weight="normal" text-anchor="start" textLength="52.6" lengthAdjust="spacingAndGlyphs" stroke="#b2b5be" stroke-width="0.3">111,500.0</text>
<text x="1301.8" y="69.3" font-size="12" fill="#b2b5be" font-weight="normal" text-anchor="start" textLength="52.6" lengthAdjust="spacingAndGlyphs" stroke="#b2b5be" stroke-width="0.3">111,000.0</text>
<text x="1301.8" y="100.0" font-size="12" fill="#b2b5be" font-weight="normal" text-anchor="start" textLength="52.6" lengthAdjust="spacingAndGlyphs" stroke="#b2b5be" stroke-width="0.3">110,500.0</text>
<text x="1301.8" y="130.9" font-size="12" fill="#b2b5be" font-weight="normal" text-anchor="start" textLength="52.6" lengthAdjust="spacingAndGlyphs" stroke="#b2b5be" stroke-width="0.3">110,000.0</text>
<text x="1301.8" y="180.5" font-size="12" fill="#b2b5be" font-weight="normal" text-anchor="start" textLength="52.6" lengthAdjust="spacingAndGlyphs" stroke="#b2b5be" stroke-width="0.3">109,200.0</text>
<text x="1301.8" y="230.5" font-size="12" fill="#b2b5be" font-weight="normal" text-anchor="start" textLength="52.6" lengthAdjust="spacingAndGlyphs" stroke="#b2b5be" stroke-width="0.3">108,400.0</text>
<text x="1301.8" y="280.8" font-size="12" fill="#b2b5be" font-weight="normal" text-anchor="start" textLength="52.6" lengthAdjust="spacingAndGlyphs" stroke="#b2b5be" stroke-width="0.3">107,600.0</text>
<text x="1301.8" y="331.5" font-size="12" fill="#b2b5be" font-weight="normal" text-anchor="start" textLength="52.6" lengthAdjust="spacingAndGlyphs" stroke="#b2b5be" stroke-width="0.3">106,800.0</text>
<text x="1301.8" y="382.6" font-size="12" fill="#b2b5be" font-weight="normal" text-anchor="start" textLength="52.6" lengthAdjust="spacingAndGlyphs" stroke="#b2b5be" stroke-width="0.3">106,000.0</text>
<text x="1301.8" y="414.8" font-size="12" fill="#b2b5be" font-weight="normal" text-anchor="start" textLength="52.6" lengthAdjust="spacingAndGlyphs" stroke="#b2b5be" stroke-width="0.3">105,500.0</text>
<text x="1301.8" y="447.1" font-size="12" fill="#b2b5be" font-weight="normal" text-anchor="start" textLength="52.6" lengthAdjust="spacingAndGlyphs" stroke="#b2b5be" stroke-width="0.3">105,000.0</text>
<text x="1301.8" y="486.0" font-size="12" fill="#b2b5be" font-weight="normal" text-anchor="start" textLength="52.6" lengthAdjust="spacingAndGlyphs" stroke="#b2b5be" stroke-width="0.3">104,400.0</text>
<text x="1301.8" y="525.2" font-size="12" fill="#b2b5be" font-weight="normal" text-anchor="start" textLength="52.6" lengthAdjust="spacingAndGlyphs" stroke="#b2b5be" stroke-width="0.3">103,800.0</text>
<text x="1301.8" y="564.6" font-size="12" fill="#b2b5be" font-weight="normal" text-anchor="start" textLength="52.6" lengthAdjust="spacingAndGlyphs" stroke="#b2b5be" stroke-width="0.3">103,200.0</text>
<text x="1301.8" y="604.2" font-size="12" fill="#b2b5be" font-weight="normal" text-anchor="start" textLength="52.6" lengthAdjust="spacingAndGlyphs" stroke="#b2b5be" stroke-width="0.3">102,600.0</text>
<text x="1301.8" y="637.5" font-size="12" fill="#b2b5be" font-weight="normal" text-anchor="start" textLength="52.6" lengthAdjust="spacingAndGlyphs" stroke="#b2b5be" stroke-width="0.3">102,100.0</text>
<text x="1301.8" y="670.8" font-size="12" fill="#b2b5be" font-weight="normal" text-anchor="start" textLength="52.6" lengthAdjust="spacingAndGlyphs" stroke="#b2b5be" stroke-width="0.3">101,600.0</text>
<text x="1301.8" y="704.4" font-size="12" fill="#b2b5be" font-weight="normal" text-anchor="start" textLength="52.6" lengthAdjust="spacingAndGlyphs" stroke="#b2b5be" stroke-width="0.3">101,100.0</text>
<text x="1301.8" y="736.7" font-size="12" fill="#b2b5be" font-weight="normal" text-anchor="start" textLength="52.6" lengthAdjust="spacingAndGlyphs" stroke="#b2b5be" stroke-width="0.3">100,620.0</text>
<text x="1301.8" y="767.9" font-size="12" fill="#b2b5be" font-weight="normal" text-anchor="start" textLength="52.6" lengthAdjust="spacingAndGlyphs" stroke="#b2b5be" stroke-width="0.3">100,160.0</text>
<rect x="1296.5" y="5.5" width="63" height="25" rx="4" fill="#0f0f0f" stroke="#50535e"/>
<text x="1300.4" y="22" font-size="12" fill="#e6e8ee" font-weight="normal" text-anchor="start" textLength="20.4" lengthAdjust="spacingAndGlyphs">USD</text>
<path d="M1350 17.5l2.7 2.7l2.7-2.7" fill="none" stroke="#d1d4dc" stroke-width="1.3"/>
<rect x="1293" y="80" width="66" height="17" fill="#ffffff"/>
<text x="1302.3" y="92.8" font-size="12" fill="#131722" font-weight="normal" text-anchor="start" textLength="51.7" lengthAdjust="spacingAndGlyphs">110,641.9</text>
<rect x="1293" y="732" width="66" height="17" fill="#ffffff"/>
<text x="1302.3" y="744.8" font-size="12" fill="#131722" font-weight="normal" text-anchor="start" textLength="51.7" lengthAdjust="spacingAndGlyphs">100,522.4</text>
<path d="M1244 379h49v17h-49a2 2 0 0 1-2-2v-13a2 2 0 0 1 2-2z" fill="#f7525f"/>
<text x="1246.2" y="391.5" font-size="12" fill="#ffffff" font-weight="normal" text-anchor="start" textLength="41.6" lengthAdjust="spacingAndGlyphs" stroke="#ffffff" stroke-width="0.3">BTCUSD</text>
<path d="M1292 379h65a2 2 0 0 1 2 2v27a2 2 0 0 1-2 2h-65z" fill="#f7525f"/>
<text x="1301.6" y="390.9" font-size="12" fill="#ffffff" font-weight="normal" text-anchor="start" textLength="52.4" lengthAdjust="spacingAndGlyphs" stroke="#ffffff" stroke-width="0.55">105,880.0</text>
<text x="1301.4" y="404.6" font-size="12" fill="#fde6e8" font-weight="normal" text-anchor="start" textLength="29" lengthAdjust="spacingAndGlyphs" stroke="#fde6e8" stroke-width="0.3">52:47</text>
<text x="74.0" y="787.3" font-size="12" fill="#c3c6ce" font-weight="normal" text-anchor="middle" stroke="#c3c6ce" stroke-width="0.4">5</text>
<text x="172.3" y="787.3" font-size="12" fill="#c3c6ce" font-weight="normal" text-anchor="middle" stroke="#c3c6ce" stroke-width="0.4">7</text>
<text x="270.7" y="787.3" font-size="12" fill="#c3c6ce" font-weight="normal" text-anchor="middle" stroke="#c3c6ce" stroke-width="0.4">9</text>
<text x="369.0" y="787.3" font-size="12" fill="#c3c6ce" font-weight="normal" text-anchor="middle" stroke="#c3c6ce" stroke-width="0.4">11</text>
<text x="467.3" y="787.3" font-size="12" fill="#c3c6ce" font-weight="normal" text-anchor="middle" stroke="#c3c6ce" stroke-width="0.4">13</text>
<text x="565.6" y="787.3" font-size="12" fill="#c3c6ce" font-weight="normal" text-anchor="middle" stroke="#c3c6ce" stroke-width="0.4">15</text>
<text x="664.0" y="787.3" font-size="12" fill="#c3c6ce" font-weight="normal" text-anchor="middle" stroke="#c3c6ce" stroke-width="0.4">17</text>
<text x="762.3" y="787.3" font-size="12" fill="#c3c6ce" font-weight="normal" text-anchor="middle" stroke="#c3c6ce" stroke-width="0.4">19</text>
<text x="860.6" y="787.3" font-size="12" fill="#c3c6ce" font-weight="normal" text-anchor="middle" stroke="#c3c6ce" stroke-width="0.4">21</text>
<text x="959.0" y="787.3" font-size="12" fill="#c3c6ce" font-weight="normal" text-anchor="middle" stroke="#c3c6ce" stroke-width="0.4">23</text>
<text x="1057.3" y="787.3" font-size="12" fill="#c3c6ce" font-weight="normal" text-anchor="middle" stroke="#c3c6ce" stroke-width="0.4">25</text>
<text x="1155.6" y="787.3" font-size="12" fill="#c3c6ce" font-weight="normal" text-anchor="middle" stroke="#c3c6ce" stroke-width="0.4">27</text>
<text x="1254.0" y="787.3" font-size="12" fill="#c3c6ce" font-weight="normal" text-anchor="middle" stroke="#c3c6ce" stroke-width="0.4">29</text>
<g fill="none" stroke="#d5d8df" stroke-width="1.05"><path d="M1324.4 777.25h8.2l3.1 6.2l-3.1 6.2h-8.2l-3.1-6.2z"/><circle cx="1328.5" cy="783.45" r="1.95"/></g>
<text x="1126" y="121.3" font-size="24.5" fill="#ffffff" font-weight="bold" text-anchor="start" textLength="145.7" lengthAdjust="spacingAndGlyphs">Monthly High</text>
<text x="1182.9" y="212.9" font-size="15.2" fill="#ffffff" font-weight="bold" text-anchor="start" textLength="92.3" lengthAdjust="spacingAndGlyphs">Weekly High</text>
<rect x="728" y="298" width="392" height="32" fill="#131722"/>
<text x="733.6" y="321.7" font-size="24.3" fill="#ffffff" font-weight="bold" text-anchor="start" textLength="381" lengthAdjust="spacingAndGlyphs">Unlikely to remain in either range</text>
<text x="1182.9" y="416.8" font-size="15.2" fill="#ffffff" font-weight="bold" text-anchor="start" textLength="89.8" lengthAdjust="spacingAndGlyphs">Weekly Low</text>
<text x="1134.9" y="721.2" font-size="24.5" fill="#ffffff" font-weight="bold" text-anchor="start" textLength="141.9" lengthAdjust="spacingAndGlyphs">Monthly Low</text>
<rect x="1168" y="289.6" width="9.1" height="35.6" rx="4.5" fill="#c81d3a"/>
<circle cx="1172.55" cy="332.4" r="4.4" fill="#c81d3a"/>
<rect x="732" y="50" width="158" height="25" rx="4" fill="#161a26"/>
<text x="740.9" y="65.9" font-size="12.8" fill="#f0f1f4" font-weight="bold" text-anchor="start" textLength="141.1" lengthAdjust="spacingAndGlyphs">10,196.0 (10.15%) 101,960</text>
<path d="M808.5 88.5l3-4l3 4" fill="none" stroke="#34554a" stroke-width="1"/>
<circle cx="17.9" cy="17" r="9" fill="#f7931a"/>
<text x="17.9" y="20.9" font-size="10.8" font-weight="bold" fill="#ffffff" text-anchor="middle" transform="rotate(13 17.9 17)">B</text>
<g stroke="#ffffff" stroke-width="0.9" transform="rotate(13 17.9 17)"><path d="M16.7 11.6v1.8M18.7 11.6v1.8M16.7 20.6v1.8M18.7 20.6v1.8"/></g>
<text x="30.7" y="22.9" font-size="15.6" fill="#cbced6" font-weight="normal" text-anchor="start" textLength="50.4" lengthAdjust="spacingAndGlyphs" stroke="#cbced6" stroke-width="0.25">Bitcoin</text>
<text x="99.4" y="22.9" font-size="15.6" fill="#cbced6" font-weight="normal" text-anchor="start" textLength="27.5" lengthAdjust="spacingAndGlyphs" stroke="#cbced6" stroke-width="0.25">U.S.</text>
<text x="133.2" y="22.9" font-size="15.6" fill="#cbced6" font-weight="normal" text-anchor="start" textLength="42.4" lengthAdjust="spacingAndGlyphs" stroke="#cbced6" stroke-width="0.25">Dollar</text>
<text x="188.1" y="22.9" font-size="15.6" fill="#cbced6" font-weight="normal" text-anchor="start" textLength="16.2" lengthAdjust="spacingAndGlyphs" stroke="#cbced6" stroke-width="0.25">4h</text>
<text x="216.8" y="22.9" font-size="15.6" fill="#cbced6" font-weight="normal" text-anchor="start" textLength="63.7" lengthAdjust="spacingAndGlyphs" stroke="#cbced6" stroke-width="0.25">BITFINEX</text>
<path d="M88.4 23.4L95.6 11.4" stroke="#cbced6" stroke-width="1.4" fill="none"/>
<rect x="180.7" y="16.8" width="2.6" height="2.6" rx="0.5" fill="#cbced6"/><rect x="209.5" y="16.8" width="2.6" height="2.6" rx="0.5" fill="#cbced6"/>
<path d="M292 11h12.6l-3.6 6l3.6 6h-12.6z" fill="#7bd77e"/>
<circle cx="332" cy="17.1" r="8.8" fill="#192c35"/>
<circle cx="332" cy="17.1" r="4.3" fill="#1ab394"/>
<text x="357.7" y="22.1" font-size="12" fill="#c4c7cf" font-weight="normal" text-anchor="start" textLength="9.0" lengthAdjust="spacingAndGlyphs" stroke="#d1d4dc" stroke-width="0.3">O</text>
<text x="368.5" y="22.1" font-size="13.6" fill="#f7525f" font-weight="normal" text-anchor="start" textLength="55.6" lengthAdjust="spacingAndGlyphs">106,790.0</text>
<text x="430.4" y="22.1" font-size="12" fill="#c4c7cf" font-weight="normal" text-anchor="start" textLength="8.8" lengthAdjust="spacingAndGlyphs" stroke="#d1d4dc" stroke-width="0.3">H</text>
<text x="440.3" y="22.1" font-size="13.6" fill="#f7525f" font-weight="normal" text-anchor="start" textLength="56.6" lengthAdjust="spacingAndGlyphs">106,840.0</text>
<text x="503.1" y="22.1" font-size="12" fill="#c4c7cf" font-weight="normal" text-anchor="start" textLength="6.5" lengthAdjust="spacingAndGlyphs" stroke="#d1d4dc" stroke-width="0.3">L</text>
<text x="511.4" y="22.1" font-size="13.6" fill="#f7525f" font-weight="normal" text-anchor="start" textLength="56.6" lengthAdjust="spacingAndGlyphs">105,800.0</text>
<text x="573.6" y="22.1" font-size="12" fill="#c4c7cf" font-weight="normal" text-anchor="start" textLength="8.1" lengthAdjust="spacingAndGlyphs" stroke="#d1d4dc" stroke-width="0.3">C</text>
<text x="583.5" y="22.1" font-size="13.6" fill="#f7525f" font-weight="normal" text-anchor="start" textLength="56.6" lengthAdjust="spacingAndGlyphs">105,880.0</text>
<text x="647.2" y="22.1" font-size="13.6" fill="#f7525f" font-weight="normal" text-anchor="start" textLength="90.8" lengthAdjust="spacingAndGlyphs">−920.0 (−0.86%)</text>
<rect x="8.5" y="33.3" width="79" height="33.6" rx="5" fill="#0f0f0f" stroke="#f23645" stroke-opacity="0.85"/>
<text x="19.8" y="48.3" font-size="13" fill="#f23645" font-weight="normal" text-anchor="start" textLength="57.8" lengthAdjust="spacingAndGlyphs" stroke="#f23645" stroke-width="0.6">105,880.0</text>
<text x="36.2" y="61.7" font-size="10.8" fill="#f23645" font-weight="normal" text-anchor="start" textLength="24.2" lengthAdjust="spacingAndGlyphs">SELL</text>
<text x="96" y="54" font-size="9.7" fill="#e0e2e8" font-weight="bold" text-anchor="start" textLength="20.2" lengthAdjust="spacingAndGlyphs">10.0</text>
<rect x="123.5" y="33.3" width="79.5" height="33.6" rx="5" fill="#0f0f0f" stroke="#2962ff" stroke-opacity="0.85"/>
<text x="135.4" y="48.3" font-size="13" fill="#2f66ff" font-weight="normal" text-anchor="start" textLength="57.5" lengthAdjust="spacingAndGlyphs" stroke="#2f66ff" stroke-width="0.6">105,890.0</text>
<text x="153" y="61.7" font-size="10.8" fill="#2962ff" font-weight="normal" text-anchor="start" textLength="21.4" lengthAdjust="spacingAndGlyphs">BUY</text>
<rect x="6.5" y="74.5" width="38.5" height="20" rx="2.5" fill="none" stroke="#454955"/>
<path d="M12.6 82.6l3.9 3.7l3.9-3.7" fill="none" stroke="#d1d4dc" stroke-width="1.4"/>
<path d="M29.1 80h2.1v9.1h-2.1v-6.3l-2.2 1.1v-1.9l2.2-1.4z" fill="#e0e2e8"/>
<path d="M35.9 80h2.1v9.1h-2.1v-6.3l-2.2 1.1v-1.9l2.2-1.4z" fill="#e0e2e8"/>
<circle cx="61.9" cy="84.9" r="9" fill="#3a1a26"/>
<rect x="61" y="80" width="1.9" height="6.6" rx="0.9" fill="#b3283a"/>
<circle cx="61.95" cy="89.2" r="1.1" fill="#b3283a"/>
<g fill="#e8e8ea" stroke="#0b0d14" stroke-width="1.6" paint-order="stroke"><path d="M11.9 739.9h12.15v15h-6.15v-9h-6z"/><circle cx="29.1" cy="742.9" r="2.95"/><path d="M35.3 739.9H41.9L36.6 754.9H29z"/></g>
<circle cx="680.5" cy="756.3" r="9.8" fill="none" stroke="#9a4fd0" stroke-width="1.3"/>
<circle cx="669.9" cy="759.6" r="5.4" fill="#131722"/>
<path d="M669.9 754.6l1.5 3.5l3.5 1.5l-3.5 1.5l-1.5 3.5l-1.5-3.5l-3.5-1.5l3.5-1.5z" fill="#8457f5"/>
<clipPath id="c6886"><circle cx="688.6" cy="756" r="8"/></clipPath><circle cx="688.6" cy="756" r="11" fill="#1a0d14"/><g clip-path="url(#c6886)"><rect x="680.6" y="747.5" width="16" height="17" fill="#ffffff"/><rect x="680.6" y="747.5" width="16" height="3.3" fill="#ee5a56"/><rect x="680.6" y="754.1" width="16" height="3.3" fill="#ee5a56"/><rect x="680.6" y="760.7" width="16" height="3.3" fill="#ee5a56"/><rect x="680.6" y="747.5" width="9.6" height="9.6" fill="#3c8ff0"/><rect x="683.0" y="749.8" width="1.1" height="1.1" fill="#bfe0ff"/><rect x="685.5" y="749.8" width="1.1" height="1.1" fill="#bfe0ff"/><rect x="688.0" y="749.8" width="1.1" height="1.1" fill="#bfe0ff"/><rect x="683.0" y="752.4" width="1.1" height="1.1" fill="#bfe0ff"/><rect x="685.5" y="752.4" width="1.1" height="1.1" fill="#bfe0ff"/><rect x="688.0" y="752.4" width="1.1" height="1.1" fill="#bfe0ff"/><rect x="683.0" y="755.0" width="1.1" height="1.1" fill="#bfe0ff"/><rect x="685.5" y="755.0" width="1.1" height="1.1" fill="#bfe0ff"/><rect x="688.0" y="755.0" width="1.1" height="1.1" fill="#bfe0ff"/></g><circle cx="688.6" cy="756" r="10.2" fill="none" stroke="#e5404f" stroke-width="1.5"/>
<clipPath id="c7453"><circle cx="745.3" cy="756" r="8"/></clipPath><circle cx="745.3" cy="756" r="11" fill="#1a0d14"/><g clip-path="url(#c7453)"><rect x="737.3" y="747.5" width="16" height="17" fill="#ffffff"/><rect x="737.3" y="747.5" width="16" height="3.3" fill="#ee5a56"/><rect x="737.3" y="754.1" width="16" height="3.3" fill="#ee5a56"/><rect x="737.3" y="760.7" width="16" height="3.3" fill="#ee5a56"/><rect x="737.3" y="747.5" width="9.6" height="9.6" fill="#3c8ff0"/><rect x="739.7" y="749.8" width="1.1" height="1.1" fill="#bfe0ff"/><rect x="742.2" y="749.8" width="1.1" height="1.1" fill="#bfe0ff"/><rect x="744.7" y="749.8" width="1.1" height="1.1" fill="#bfe0ff"/><rect x="739.7" y="752.4" width="1.1" height="1.1" fill="#bfe0ff"/><rect x="742.2" y="752.4" width="1.1" height="1.1" fill="#bfe0ff"/><rect x="744.7" y="752.4" width="1.1" height="1.1" fill="#bfe0ff"/><rect x="739.7" y="755.0" width="1.1" height="1.1" fill="#bfe0ff"/><rect x="742.2" y="755.0" width="1.1" height="1.1" fill="#bfe0ff"/><rect x="744.7" y="755.0" width="1.1" height="1.1" fill="#bfe0ff"/></g><circle cx="745.3" cy="756" r="10.2" fill="none" stroke="#e5404f" stroke-width="1.5"/>
<clipPath id="c7373"><circle cx="737.3" cy="756" r="8"/></clipPath><circle cx="737.3" cy="756" r="11" fill="#1a0d14"/><g clip-path="url(#c7373)"><rect x="729.3" y="747.5" width="16" height="17" fill="#ffffff"/><rect x="729.3" y="747.5" width="16" height="3.3" fill="#ee5a56"/><rect x="729.3" y="754.1" width="16" height="3.3" fill="#ee5a56"/><rect x="729.3" y="760.7" width="16" height="3.3" fill="#ee5a56"/><rect x="729.3" y="747.5" width="9.6" height="9.6" fill="#3c8ff0"/><rect x="731.7" y="749.8" width="1.1" height="1.1" fill="#bfe0ff"/><rect x="734.2" y="749.8" width="1.1" height="1.1" fill="#bfe0ff"/><rect x="736.7" y="749.8" width="1.1" height="1.1" fill="#bfe0ff"/><rect x="731.7" y="752.4" width="1.1" height="1.1" fill="#bfe0ff"/><rect x="734.2" y="752.4" width="1.1" height="1.1" fill="#bfe0ff"/><rect x="736.7" y="752.4" width="1.1" height="1.1" fill="#bfe0ff"/><rect x="731.7" y="755.0" width="1.1" height="1.1" fill="#bfe0ff"/><rect x="734.2" y="755.0" width="1.1" height="1.1" fill="#bfe0ff"/><rect x="736.7" y="755.0" width="1.1" height="1.1" fill="#bfe0ff"/></g><circle cx="737.3" cy="756" r="10.2" fill="none" stroke="#e5404f" stroke-width="1.5"/>
</svg>
</body></html>
